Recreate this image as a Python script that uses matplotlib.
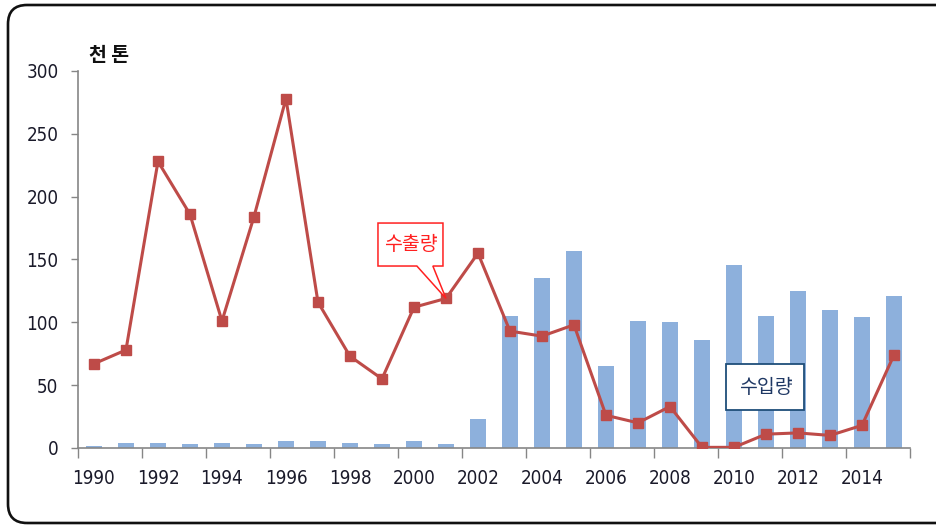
import numpy as np
import matplotlib.pyplot as plt
from matplotlib.patches import FancyBboxPatch, Polygon
from matplotlib import font_manager

years = list(range(1990, 2016))
imports = [1.5, 4.2, 4.2, 2.9, 4.2, 2.9, 5.3, 5.3, 4.2, 2.9, 5.3, 2.9, 23,
           105, 135, 157, 65, 101, 100, 86, 146, 105, 125, 110, 104, 121]
exports = [67, 78, 228, 186, 101, 184, 278, 116, 73, 55, 112, 119, 155,
           93, 89, 98, 26, 20, 33, 0.5, 0.5, 11, 12, 10, 18, 74]
tick_years = years[::2][:13]


def narrow_font():
    # pick a condensed face for the numbers if one is around
    for f in font_manager.fontManager.ttflist:
        name = (f.name + ' ' + f.fname).lower()
        if ('narrow' in name or 'condensed' in name) and f.weight in (400, 'normal', 'regular') \
                and 'oblique' not in name and 'italic' not in name:
            return font_manager.FontProperties(fname=f.fname, size=13.5)
    return font_manager.FontProperties(family='Liberation Sans', size=12.5)


num_fp = narrow_font()
kr_font = ['Noto Sans CJK KR', 'DejaVu Sans']

fig = plt.figure(figsize=(9.36, 5.25), dpi=100)
ax = fig.add_axes([0.0833, 0.1467, 0.8889, 0.7181])

x = np.arange(len(years))
ax.bar(x, imports, width=0.5, color='#8DB0DC', zorder=2)
ax.plot(x, exports, color='#BE4B48', lw=2.2, marker='s', ms=7.5,
        markeredgecolor='#BE4B48', zorder=3)

ax.set_xlim(-0.5, len(years) - 0.5)
ax.set_ylim(0, 300)
ax.set_yticks(range(0, 301, 50))

# tick marks between category pairs, labels centred on every other year
ax.set_xticks(np.arange(-0.5, len(years), 2))
ax.set_xticklabels([])
ax.set_xticks(x[::2][:13], minor=True)
ax.set_xticklabels([str(y) for y in tick_years], minor=True)
ax.tick_params(axis='x', which='major', length=7, color='#868686', width=1)
ax.tick_params(axis='x', which='minor', length=0, pad=15)
ax.tick_params(axis='y', length=5, color='#868686', width=1, pad=9)

for lbl in ax.get_xticklabels(minor=True) + ax.get_yticklabels():
    lbl.set_fontproperties(num_fp)
    lbl.set_color('#1A1A2A')

for side in ('top', 'right'):
    ax.spines[side].set_visible(False)
for side in ('left', 'bottom'):
    ax.spines[side].set_color('#868686')
    ax.spines[side].set_linewidth(1.2)

fig.text(0.095, 0.883, '천 톤', family=kr_font, fontsize=14,
         fontweight='bold', color='#111111')

# callout pointing at the 2001 export value
i01 = years.index(2001)
callout = Polygon([(8.875, 179), (10.906, 179), (10.906, 144.8), (10.59, 144.8),
                   (x[i01], exports[i01]), (10.09, 144.8), (8.875, 144.8)],
                  closed=True, facecolor='white', edgecolor='#FF2020', lw=1.1,
                  zorder=4)
ax.add_patch(callout)
ax.text(9.89, 162, '수출량', family=kr_font, fontsize=14, color='#FF2020',
        ha='center', va='center', zorder=5)

ax.text(20.98, 48.5, '수입량', family=kr_font, fontsize=14, color='#1F3864',
        ha='center', va='center', zorder=5,
        bbox=dict(boxstyle='square,pad=0.62', facecolor='white',
                  edgecolor='#1F4E79', lw=1.3))

frame = FancyBboxPatch((0.08, 0.02), 9.52, 5.18,
                       boxstyle='round,pad=0,rounding_size=0.19',
                       transform=fig.dpi_scale_trans, facecolor='none',
                       edgecolor='#111111', lw=1.9, clip_on=False)
fig.patches.append(frame)

plt.savefig('out.png', dpi=100)
